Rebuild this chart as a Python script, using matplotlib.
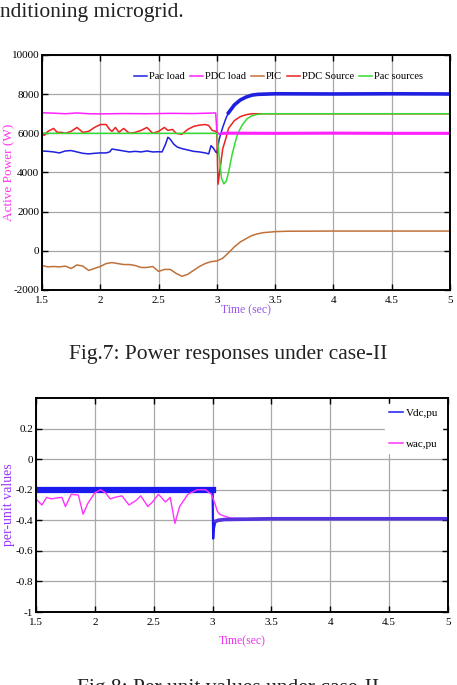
import matplotlib
matplotlib.use("Agg")
import matplotlib.pyplot as plt

# ---------------- Fig.7 data (W) ----------------
pac_load_t = [1.5, 1.55, 1.6, 1.65, 1.7, 1.75, 1.8, 1.85, 1.9, 1.95, 2.0, 2.05, 2.08, 2.1, 2.15,
              2.2, 2.25, 2.3, 2.35, 2.4, 2.45, 2.5, 2.53, 2.56, 2.58, 2.6, 2.63, 2.66, 2.7, 2.75,
              2.8, 2.85, 2.9, 2.93, 2.95, 2.97, 2.99, 3.0, 3.02, 3.05, 3.08, 3.1, 3.15, 3.2,
              3.25, 3.3, 3.35, 3.4, 3.5, 4.0, 4.5, 5.0]
pac_load_v = [5100, 5080, 5050, 5000, 5100, 5120, 5050, 4980, 4950, 4980, 5000, 5000, 5050, 5200, 5150,
              5100, 5050, 5080, 5050, 5100, 5050, 5060, 5050, 5450, 5800, 5700, 5450, 5300, 5220, 5150,
              5080, 5050, 5000, 4950, 5370, 5250, 5050, 5000, 5700, 6300, 6800, 7050, 7450, 7700,
              7850, 7950, 7990, 8000, 8020, 8010, 8020, 8010]

pdc_load_t = [1.5, 1.6, 1.7, 1.8, 1.9, 2.0, 2.2, 2.4, 2.6, 2.8, 2.99, 3.0, 3.02, 3.05, 3.1, 3.5, 4.0, 4.5, 5.0]
pdc_load_v = [7050, 7030, 7000, 7040, 7000, 6990, 7010, 7000, 7020, 7010, 7040, 6100, 5950, 6000, 6010, 6000, 6010, 6000, 6000]

pic_t = [1.5, 1.55, 1.6, 1.65, 1.7, 1.75, 1.8, 1.85, 1.9, 1.95, 2.0, 2.05, 2.1, 2.15, 2.2,
         2.25, 2.3, 2.35, 2.4, 2.45, 2.5, 2.55, 2.6, 2.65, 2.7, 2.75, 2.8, 2.85, 2.9,
         2.95, 3.0, 3.05, 3.1, 3.15, 3.2, 3.25, 3.3, 3.35, 3.4, 3.5, 3.6, 4.0, 4.5, 5.0]
pic_v = [-750, -820, -800, -820, -780, -900, -720, -780, -1000, -900, -800, -650, -600, -650, -700,
         -700, -750, -850, -850, -800, -1050, -950, -950, -1150, -1300, -1200, -1000, -800, -650,
         -550, -520, -380, -100, 200, 450, 620, 780, 870, 930, 980, 1000, 1010, 1010, 1010]

pdc_src_t = [1.5, 1.52, 1.55, 1.6, 1.63, 1.67, 1.7, 1.75, 1.8, 1.85, 1.9, 1.95, 2.0, 2.05, 2.08,
             2.1, 2.13, 2.16, 2.2, 2.25, 2.3, 2.35, 2.4, 2.45, 2.5, 2.55, 2.58, 2.62, 2.65, 2.7,
             2.75, 2.8, 2.85, 2.9, 2.93, 2.96, 2.99, 3.0, 3.01, 3.03, 3.05, 3.08, 3.1, 3.15,
             3.2, 3.25, 3.3, 3.35, 3.5, 4.0, 4.5, 5.0]
pdc_src_v = [5950, 5900, 6100, 6250, 6050, 6050, 6000, 6100, 6300, 6050, 6100, 6300, 6450, 6450, 6200,
             6100, 6300, 6050, 6250, 6000, 6050, 6150, 6300, 6000, 6100, 6300, 6150, 6200, 6000, 5950,
             6200, 6350, 6420, 6450, 6400, 6150, 6100, 6000, 3400, 4300, 5200, 5800, 6250, 6650,
             6850, 6950, 7000, 7000, 7000, 7000, 7000, 7000]

pac_src_t = [1.5, 2.0, 2.5, 2.99, 3.0, 3.02, 3.04, 3.06, 3.08, 3.1, 3.13, 3.16, 3.18, 3.22,
             3.26, 3.3, 3.35, 3.4, 3.5, 4.0, 4.5, 5.0]
pac_src_v = [6000, 6000, 6000, 6000, 6000, 4800, 3700, 3420, 3550, 4000, 4900, 5600, 6000, 6450,
             6750, 6900, 6970, 7000, 7000, 7000, 7000, 7000]

# ---------------- Fig.8 data (pu) ----------------
vdc_t = [1.5, 2.0, 2.5, 2.99, 3.0, 3.005, 3.01, 3.02, 3.03, 3.05, 3.1, 3.5, 4.0, 4.5, 5.0]
vdc_v = [-0.2, -0.2, -0.2, -0.2, -0.2, -0.52, -0.46, -0.42, -0.405, -0.40, -0.395, -0.39, -0.39, -0.39, -0.39]

wac_t = [1.5, 1.55, 1.59, 1.63, 1.67, 1.72, 1.75, 1.8, 1.86, 1.9, 1.94, 2.0, 2.05, 2.09, 2.13,
         2.17, 2.23, 2.29, 2.35, 2.39, 2.45, 2.49, 2.54, 2.6, 2.64, 2.68, 2.72, 2.79, 2.87,
         2.94, 2.99, 3.02, 3.04, 3.06, 3.09, 3.15, 3.3, 4.0, 5.0]
wac_v = [-0.26, -0.30, -0.25, -0.26, -0.255, -0.25, -0.31, -0.23, -0.235, -0.36, -0.29, -0.22, -0.2, -0.22, -0.26,
         -0.25, -0.24, -0.30, -0.27, -0.24, -0.31, -0.28, -0.23, -0.28, -0.25, -0.42, -0.31, -0.23, -0.20,
         -0.20, -0.23, -0.29, -0.34, -0.36, -0.37, -0.385, -0.39, -0.39, -0.39]

x_ticks = [1.5, 2, 2.5, 3, 3.5, 4, 4.5, 5]
x_labels = ["1.5", "2", "2.5", "3", "3.5", "4", "4.5", "5"]
y1_ticks = [-2000, 0, 2000, 4000, 6000, 8000, 10000]
y1_labels = ["-2000", "0", "2000", "4000", "6000", "8000", "10000"]
y2_ticks = [-1, -0.8, -0.6, -0.4, -0.2, 0, 0.2]
y2_labels = ["-1", "-0.8", "-0.6", "-0.4", "-0.2", "0", "0.2"]

serif = "Liberation Serif"
W, H = 457, 685
fig = plt.figure(figsize=(W / 100, H / 100), dpi=100)


def style(ax, fs=8.5):
    for s in ax.spines.values():
        s.set_linewidth(1.4)
        s.set_color("black")
    ax.grid(True, color="#a8a8a8", linewidth=0.9)
    ax.set_axisbelow(True)
    ax.tick_params(direction="in", top=True, right=True, length=4, width=1,
                   labelsize=fs, pad=2)
    ax.tick_params(axis="x", pad=4)
    for lab in ax.get_xticklabels() + ax.get_yticklabels():
        lab.set_fontfamily(serif)


# ---------- page text ----------
fig.text(0.0, 1 - 13 / H, "nditioning microgrid.", fontsize=15.5, family=serif,
         va="center", ha="left", color="#222222")
fig.text(0.5, 1 - 354 / H, "Fig.7: Power responses under case-II", fontsize=15.5,
         family=serif, va="center", ha="center", color="#222222")
fig.text(0.5, 1 - 689 / H, "Fig.8: Per unit values under case-II", fontsize=15.5,
         family=serif, va="center", ha="center", color="#222222")

# ---------- Fig.7 ----------
ax1 = fig.add_axes([42 / W, 1 - 290 / H, (450 - 42) / W, (290 - 55) / H])
ax1.plot(pac_load_t, pac_load_v, color="#1f1fe0", lw=1.1, label="Pac load")
ax1.plot(pdc_load_t, pdc_load_v, color="#ff22ff", lw=1.1, label="PDC load")
ax1.plot(pic_t, pic_v, color="#c0703a", lw=1.1, label="PIC")
ax1.plot(pdc_src_t, pdc_src_v, color="#ee2020", lw=1.1, label="PDC Source")
ax1.plot(pac_src_t, pac_src_v, color="#33dd33", lw=1.1, label="Pac sources")
# thicker ripple bands after the transient
ax1.plot(pac_load_t[-11:], pac_load_v[-11:], color="#1f1fe0", lw=2.6)
ax1.plot(pdc_load_t[-6:], pdc_load_v[-6:], color="#ff22ff", lw=2.2)
ax1.set_xlim(1.5, 5)
ax1.set_ylim(-2000, 10000)
ax1.set_xticks(x_ticks)
ax1.set_xticklabels(x_labels)
ax1.set_yticks(y1_ticks)
ax1.set_yticklabels(y1_labels)
style(ax1, fs=8)
ax1.legend(loc="upper center", bbox_to_anchor=(0.58, 0.955), ncol=5, frameon=False,
           prop={"family": serif, "size": 7.6}, handlelength=1.2, handletextpad=0.2,
           columnspacing=0.5, borderpad=0.1)
ax1.set_xlabel("Time (sec)", color="#9955ee", fontsize=8.5, family=serif, labelpad=0)
ax1.set_ylabel("Active Power (W)", color="#ff33ee", fontsize=9.5, family=serif,
               va="center")
ax1.yaxis.set_label_coords((9 - 42) / (450 - 42), 0.5)

# ---------- Fig.8 ----------
ax2 = fig.add_axes([36 / W, 1 - 612 / H, (448 - 36) / W, (612 - 398) / H])
ax2.plot(vdc_t[:5], vdc_v[:5], color="#1a1aee", lw=4.5)
ax2.plot(vdc_t[4:], vdc_v[4:], color="#1a1aee", lw=1.6)
ax2.plot(vdc_t, vdc_v, color="#1a1aee", lw=0.0, label="Vdc,pu")
ax2.plot(wac_t, wac_v, color="#ff33ff", lw=1.0, label="wac,pu")
ax2.plot(vdc_t[8:], vdc_v[8:], color="#5533dd", lw=2.6)
ax2.set_xlim(1.5, 5)
ax2.set_ylim(-1, 0.4)
ax2.set_xticks(x_ticks)
ax2.set_xticklabels(x_labels)
ax2.set_yticks(y2_ticks)
ax2.set_yticklabels(y2_labels)
style(ax2, fs=8)
leg = ax2.legend(loc="upper right", frameon=True, prop={"family": serif, "size": 8},
                 handlelength=1.3, handletextpad=0.2, borderpad=0.4, labelspacing=1.9,
                 borderaxespad=0.5)
leg.get_frame().set_edgecolor("white")
leg.get_frame().set_alpha(1)
for h in leg.legend_handles:
    h.set_linewidth(1.1)
ax2.set_xlabel("Time(sec)", color="#ee33ee", fontsize=8.5, family=serif, labelpad=6)
ax2.set_ylabel("per-unit values", color="#9933ff", fontsize=10, family=serif,
               va="center")
ax2.yaxis.set_label_coords((9 - 36) / (448 - 36), 0.5)

fig.savefig("out.png", dpi=100)
